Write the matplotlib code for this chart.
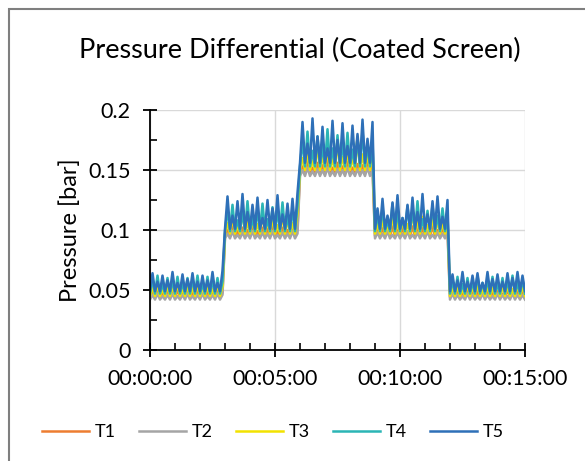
import matplotlib
matplotlib.use("Agg")
import matplotlib.pyplot as plt
import matplotlib.patches as patches
from matplotlib.ticker import MultipleLocator, FuncFormatter
import numpy as np

plt.rcParams['font.family'] = ['Lato', 'DejaVu Sans']

# stage length in seconds, five pressure stages
stage_len = 180
period = 12

series_names = ['T1', 'T2', 'T3', 'T4', 'T5']
series_colors = ['#ED7D31', '#A5A5A5', '#F2E200', '#2BB5B5', '#2E70B8']

# trough (bottom) level of each series per stage [bar]
trough_T1 = [0.044, 0.095, 0.148, 0.095, 0.044]
trough_T2 = [0.042, 0.093, 0.145, 0.093, 0.042]
trough_T3 = [0.045, 0.097, 0.150, 0.097, 0.045]
trough_T4 = [0.047, 0.099, 0.153, 0.099, 0.047]
trough_T5 = [0.049, 0.101, 0.156, 0.101, 0.049]

# spike peaks of each series, 15 per stage [bar]
peaks_T1 = [
    [0.048, 0.050, 0.047, 0.049, 0.048, 0.050, 0.047, 0.049, 0.048, 0.050, 0.047, 0.049, 0.048, 0.050, 0.048],
    [0.100, 0.103, 0.099, 0.102, 0.100, 0.104, 0.099, 0.102, 0.101, 0.103, 0.099, 0.102, 0.100, 0.103, 0.101],
    [0.153, 0.157, 0.152, 0.156, 0.154, 0.158, 0.152, 0.156, 0.153, 0.157, 0.152, 0.155, 0.154, 0.157, 0.153],
    [0.100, 0.102, 0.099, 0.103, 0.100, 0.102, 0.099, 0.103, 0.101, 0.102, 0.099, 0.103, 0.100, 0.102, 0.101],
    [0.048, 0.049, 0.047, 0.050, 0.048, 0.049, 0.047, 0.050, 0.048, 0.049, 0.047, 0.050, 0.048, 0.049, 0.048],
]
peaks_T2 = [
    [0.046, 0.047, 0.045, 0.046, 0.047, 0.045, 0.046, 0.047, 0.045, 0.046, 0.047, 0.045, 0.046, 0.047, 0.046],
    [0.097, 0.099, 0.096, 0.098, 0.097, 0.099, 0.096, 0.098, 0.097, 0.099, 0.096, 0.098, 0.097, 0.099, 0.097],
    [0.150, 0.152, 0.149, 0.151, 0.150, 0.152, 0.149, 0.151, 0.150, 0.152, 0.149, 0.151, 0.150, 0.152, 0.150],
    [0.098, 0.097, 0.099, 0.096, 0.098, 0.097, 0.099, 0.096, 0.098, 0.097, 0.099, 0.096, 0.098, 0.097, 0.098],
    [0.047, 0.046, 0.045, 0.047, 0.046, 0.045, 0.047, 0.046, 0.045, 0.047, 0.046, 0.045, 0.047, 0.046, 0.046],
]
peaks_T3 = [
    [0.052, 0.055, 0.051, 0.054, 0.053, 0.056, 0.051, 0.054, 0.052, 0.055, 0.053, 0.054, 0.051, 0.056, 0.053],
    [0.106, 0.112, 0.104, 0.118, 0.107, 0.110, 0.105, 0.115, 0.108, 0.111, 0.104, 0.113, 0.109, 0.106, 0.114],
    [0.160, 0.166, 0.158, 0.172, 0.162, 0.168, 0.159, 0.175, 0.161, 0.167, 0.160, 0.178, 0.163, 0.165, 0.170],
    [0.105, 0.110, 0.104, 0.113, 0.106, 0.109, 0.105, 0.116, 0.107, 0.111, 0.104, 0.112, 0.108, 0.106, 0.110],
    [0.052, 0.054, 0.051, 0.056, 0.053, 0.055, 0.051, 0.054, 0.052, 0.057, 0.053, 0.054, 0.051, 0.055, 0.053],
]
peaks_T4 = [
    [0.059, 0.062, 0.055, 0.060, 0.058, 0.061, 0.056, 0.060, 0.059, 0.062, 0.055, 0.061, 0.058, 0.060, 0.057],
    [0.118, 0.121, 0.108, 0.115, 0.124, 0.110, 0.117, 0.122, 0.109, 0.119, 0.116, 0.123, 0.111, 0.118, 0.120],
    [0.175, 0.182, 0.166, 0.178, 0.170, 0.184, 0.168, 0.179, 0.173, 0.181, 0.167, 0.177, 0.183, 0.171, 0.176],
    [0.113, 0.119, 0.108, 0.122, 0.115, 0.110, 0.120, 0.117, 0.124, 0.109, 0.116, 0.121, 0.112, 0.118, 0.114],
    [0.058, 0.061, 0.055, 0.060, 0.057, 0.062, 0.056, 0.059, 0.061, 0.055, 0.060, 0.058, 0.062, 0.056, 0.059],
]
peaks_T5 = [
    [0.064, 0.057, 0.062, 0.058, 0.065, 0.056, 0.063, 0.059, 0.064, 0.057, 0.062, 0.058, 0.065, 0.056, 0.066],
    [0.128, 0.112, 0.124, 0.130, 0.115, 0.121, 0.127, 0.110, 0.125, 0.118, 0.129, 0.113, 0.122, 0.126, 0.131],
    [0.190, 0.172, 0.193, 0.178, 0.186, 0.168, 0.191, 0.175, 0.189, 0.170, 0.187, 0.180, 0.192, 0.176, 0.190],
    [0.118, 0.126, 0.112, 0.123, 0.129, 0.110, 0.121, 0.127, 0.115, 0.130, 0.113, 0.124, 0.128, 0.111, 0.125],
    [0.063, 0.058, 0.065, 0.057, 0.062, 0.064, 0.056, 0.065, 0.059, 0.063, 0.057, 0.064, 0.060, 0.065, 0.062],
]

troughs = [trough_T1, trough_T2, trough_T3, trough_T4, trough_T5]
peaks = [peaks_T1, peaks_T2, peaks_T3, peaks_T4, peaks_T5]


def build_series(trough, peak):
    t, v = [], []
    for s in range(len(trough)):
        for k, p in enumerate(peak[s]):
            t0 = s * stage_len + k * period
            t += [t0, t0 + period / 2]
            v += [trough[s], p]
    t.append(len(trough) * stage_len)
    v.append(trough[-1])
    return np.array(t), np.array(v)


def fmt_time(x, pos):
    x = int(round(x))
    return '%02d:%02d:%02d' % (x // 3600, (x % 3600) // 60, x % 60)


fig = plt.figure(figsize=(5.85, 4.61), dpi=100)
ax = fig.add_axes([150 / 585, 1 - 350 / 461, 375 / 585, 240 / 461])

for name, col, tr, pk in zip(series_names, series_colors, troughs, peaks):
    t, v = build_series(tr, pk)
    ax.plot(t, v, color=col, lw=1.8, label=name)

ax.set_xlim(0, 900)
ax.set_ylim(0, 0.2)
ax.xaxis.set_major_locator(MultipleLocator(300))
ax.xaxis.set_minor_locator(MultipleLocator(60))
ax.xaxis.set_major_formatter(FuncFormatter(fmt_time))
ax.yaxis.set_major_locator(MultipleLocator(0.05))
ax.yaxis.set_minor_locator(MultipleLocator(0.025))
ax.yaxis.set_major_formatter(FuncFormatter(lambda y, p: '0' if y == 0 else ('%g' % round(y, 3))))

ax.grid(True, which='major', color='#D9D9D9', lw=1.0)
ax.set_axisbelow(True)
for sp in ['top', 'right']:
    ax.spines[sp].set_visible(False)
for sp in ['left', 'bottom']:
    ax.spines[sp].set_color('black')
    ax.spines[sp].set_linewidth(1.3)

ax.tick_params(which='major', direction='inout', length=10, width=1.3, labelsize=15.5, colors='black')
ax.tick_params(which='minor', direction='in', length=5, width=1.2)
ax.tick_params(axis='x', which='major', pad=9)
ax.tick_params(axis='y', which='major', pad=9)

ax.set_ylabel('Pressure [bar]', fontsize=17, labelpad=5)
fig.text(300 / 585, 1 - 50 / 461, 'Pressure Differential (Coated Screen)', fontsize=19.5,
         ha='center', va='center')

fig.legend(loc='center', bbox_to_anchor=(273 / 585, 1 - 432 / 461), ncol=5, frameon=False,
           fontsize=13, handlelength=2.6, columnspacing=1.3, handletextpad=0.3)

# outer chart frame
fig.patches.append(patches.Rectangle((9 / 585, -0.1), 1.1, 1 - 9 / 461 + 0.1, transform=fig.transFigure,
                                     fill=False, edgecolor='#7F7F7F', lw=1.5, clip_on=False))

plt.savefig('out.png', dpi=100)
